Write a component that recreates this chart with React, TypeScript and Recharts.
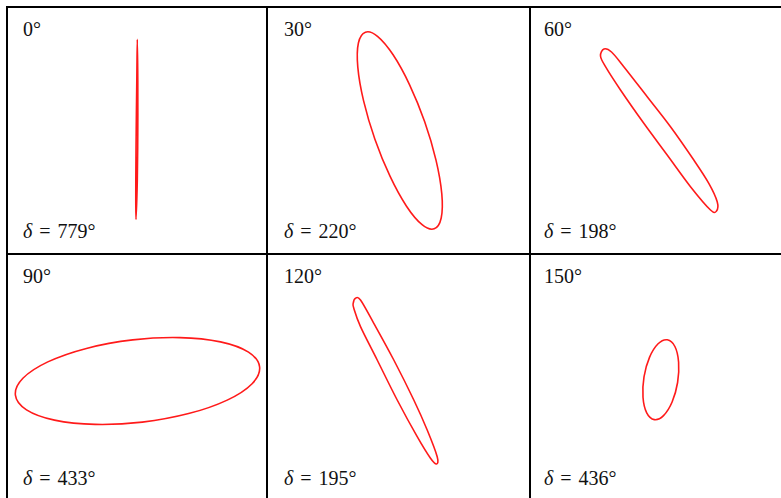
import React from "react";
import { LineChart, Line, XAxis, YAxis } from "recharts";

// panel titles (orientation) and measured delta values
const angleLabels = ["0°", "30°", "60°", "90°", "120°", "150°"];
const deltaValues = [779, 220, 198, 433, 195, 436];

// ellipse outlines (units ~ 100px, y up, centred in panel)
const ell0X = [0.008, 0.003, -0.01, -0.012, -0.008, -0.002, 0.003, 0.008];
const ell0Y = [0.0, -0.5, -0.89, -0.5, 0.0, 0.5, 0.912, 0.5];

const ell30X = [0.352, 0.422, 0.428, 0.37, 0.257, 0.106, -0.059, -0.215, -0.336, -0.406, -0.412, -0.354, -0.241, -0.09, 0.075, 0.231];
const ell30Y = [-0.983, -0.875, -0.634, -0.296, 0.087, 0.457, 0.757, 0.942, 0.983, 0.875, 0.634, 0.296, -0.087, -0.457, -0.757, -0.942];

const ell60X = [0.085, 0.318, 0.468, 0.552, 0.545, 0.485, 0.285, 0.052, -0.182, -0.415, -0.565, -0.615, -0.58, -0.505, -0.382, -0.148];
const ell60Y = [0.038, -0.295, -0.528, -0.712, -0.805, -0.795, -0.562, -0.245, 0.072, 0.405, 0.638, 0.745, 0.815, 0.785, 0.638, 0.338];

const ell90X = [1.226, 1.115, 0.835, 0.428, -0.043, -0.506, -0.892, -1.141, -1.216, -1.105, -0.825, -0.418, 0.053, 0.516, 0.902, 1.151];
const ell90Y = [0.106, 0.253, 0.356, 0.399, 0.376, 0.291, 0.156, -0.008, -0.176, -0.323, -0.426, -0.469, -0.446, -0.361, -0.226, -0.062];

const ell120X = [-0.052, 0.148, 0.282, 0.382, 0.375, 0.315, 0.182, -0.018, -0.218, -0.385, -0.452, -0.458, -0.435, -0.385, -0.252];
const ell120Y = [0.175, -0.225, -0.525, -0.792, -0.865, -0.808, -0.592, -0.225, 0.175, 0.508, 0.692, 0.742, 0.792, 0.775, 0.542];

const ell150X = [0.053, -0.039, -0.125, -0.18, -0.19, -0.153, -0.077, 0.015, 0.101, 0.156, 0.166, 0.129];
const ell150Y = [0.377, 0.337, 0.201, 0.006, -0.198, -0.354, -0.421, -0.381, -0.245, -0.05, 0.154, 0.31];

const ellipses = [
  [ell0X, ell0Y],
  [ell30X, ell30Y],
  [ell60X, ell60Y],
  [ell90X, ell90Y],
  [ell120X, ell120Y],
  [ell150X, ell150Y],
];

// layout
const COL_CX = [137, 398.5, 661.5];
const ROW_CY = [130.5, 377.5];
const COL_LEFT = [7, 267, 530];
const ROW_TOP = [7, 254];
const LABEL_DX = [16, 17, 14];
const CW = 262;
const CH = 247;

const FONT = "'Liberation Serif', 'Times New Roman', serif";

// closed Catmull-Rom curve so the loop has no seam
function closedCurve(context: any) {
  let pts: number[][] = [];
  return {
    areaStart() {},
    areaEnd() {},
    lineStart() {
      pts = [];
    },
    point(x: number, y: number) {
      pts.push([+x, +y]);
    },
    lineEnd() {
      const n = pts.length;
      if (n < 3) return;
      context.moveTo(pts[0][0], pts[0][1]);
      for (let i = 0; i < n; i++) {
        const p0 = pts[(i - 1 + n) % n];
        const p1 = pts[i];
        const p2 = pts[(i + 1) % n];
        const p3 = pts[(i + 2) % n];
        context.bezierCurveTo(
          p1[0] + (p2[0] - p0[0]) / 6,
          p1[1] + (p2[1] - p0[1]) / 6,
          p2[0] - (p3[0] - p1[0]) / 6,
          p2[1] - (p3[1] - p1[1]) / 6,
          p2[0],
          p2[1]
        );
      }
      context.closePath();
    },
  };
}

function Panel({ idx }: { idx: number }) {
  const col = idx % 3;
  const row = Math.floor(idx / 3);
  const [xs, ys] = ellipses[idx];
  const data = xs.map((x, i) => ({ x, y: ys[i] }));
  const left = COL_LEFT[col] + LABEL_DX[col];
  const top = ROW_TOP[row];

  return (
    <>
      <div style={{ position: "absolute", left: COL_CX[col] - CW / 2, top: ROW_CY[row] - CH / 2 }}>
        <LineChart width={CW} height={CH} data={data} margin={{ top: 0, right: 0, bottom: 0, left: 0 }}>
          <XAxis type="number" dataKey="x" domain={[-1.31, 1.31]} hide allowDataOverflow />
          <YAxis type="number" domain={[-1.235, 1.235]} hide allowDataOverflow />
          <Line
            type={closedCurve as any}
            dataKey="y"
            stroke="#ff1a1a"
            strokeWidth={1.6}
            dot={false}
            isAnimationActive={false}
          />
        </LineChart>
      </div>
      <div style={{ position: "absolute", left, top: top + 12, fontFamily: FONT, fontSize: 20, lineHeight: "20px", color: "#111" }}>
        {angleLabels[idx]}
      </div>
      <div style={{ position: "absolute", left, top: top + 214, fontFamily: FONT, fontSize: 20, lineHeight: "20px", color: "#111", whiteSpace: "nowrap" }}>
        <span style={{ fontStyle: "italic" }}>δ</span>
        <span style={{ margin: "0 7px" }}>=</span>
        {deltaValues[idx]}°
      </div>
    </>
  );
}

export default function App() {
  const line = (s: React.CSSProperties) => <div style={{ position: "absolute", background: "#000", ...s }} />;
  return (
    <div style={{ position: "fixed", left: 0, top: 0, width: 781, height: 498, background: "#fff", overflow: "hidden" }}>
      {[0, 1, 2, 3, 4, 5].map((i) => (
        <Panel key={i} idx={i} />
      ))}
      {line({ left: 6, top: 6, width: 790, height: 2 })}
      {line({ left: 6, top: 253, width: 790, height: 2 })}
      {line({ left: 6, top: 6, width: 2, height: 500 })}
      {line({ left: 266, top: 6, width: 2, height: 500 })}
      {line({ left: 529, top: 6, width: 2, height: 500 })}
    </div>
  );
}
